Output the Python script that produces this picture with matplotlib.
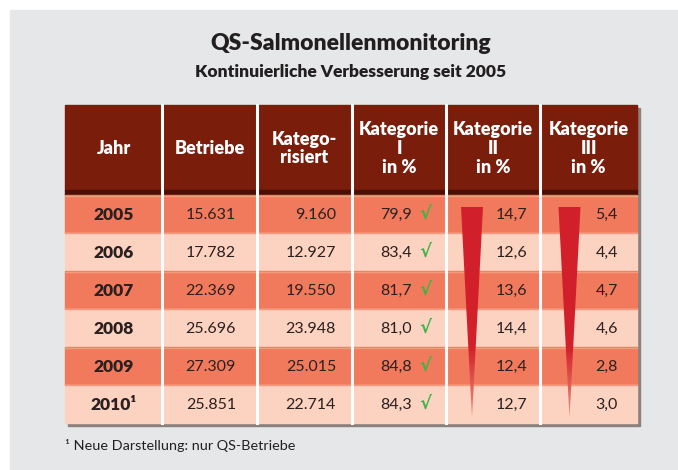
import matplotlib
matplotlib.use('Agg')
import matplotlib.pyplot as plt
import numpy as np
from matplotlib.patches import Rectangle, Polygon
from matplotlib.colors import LinearSegmentedColormap

plt.rcParams['font.family'] = ['Lato', 'DejaVu Sans']

# table data
years = ['2005', '2006', '2007', '2008', '2009', '2010¹']
betriebe = ['15.631', '17.782', '22.369', '25.696', '27.309', '25.851']
kategorisiert = ['9.160', '12.927', '19.550', '23.948', '25.015', '22.714']
kat1 = ['79,9', '83,4', '81,7', '81,0', '84,8', '84,3']
kat2 = ['14,7', '12,6', '13,6', '14,4', '12,4', '12,7']
kat3 = ['5,4', '4,4', '4,7', '4,6', '2,8', '3,0']
headers = ['Jahr', 'Betriebe', 'Katego-\nrisiert',
           'Kategorie\nI\nin %', 'Kategorie\nII\nin %', 'Kategorie\nIII\nin %']

# layout in pixel units
col_edges = [65, 162, 257, 352, 446, 540, 637]
head_top, head_bot = 105, 190
row_top, row_h = 195, 38

header_color = '#7a1d0a'
dark_row = '#f27a5c'
light_row = '#fcd3c1'
text_color = '#2b2020'

fig = plt.figure(figsize=(6.78, 4.70), dpi=100)
ax = fig.add_axes([0, 0, 1, 1])
ax.set_xlim(0, 678)
ax.set_ylim(470, 0)
ax.axis('off')

# gray panel
ax.add_patch(Rectangle((10, 10), 680, 470, color='#e6e7e8', zorder=0))

n_rows = len(years)
table_bot = row_top + n_rows * row_h

# shadow
ax.add_patch(Rectangle((col_edges[0] + 3, head_top + 3), col_edges[-1] - col_edges[0],
                       table_bot - head_top, color='#8c807c', zorder=1))

# header
ax.add_patch(Rectangle((col_edges[0], head_top), col_edges[-1] - col_edges[0],
                       head_bot - head_top, color=header_color, zorder=2))
ax.add_patch(Rectangle((col_edges[0], head_bot), col_edges[-1] - col_edges[0],
                       row_top - head_bot, color='#4a0f05', zorder=2))
for i, h in enumerate(headers):
    cx = (col_edges[i] + col_edges[i + 1]) / 2
    ax.text(cx, (head_top + head_bot) / 2 + 1, h, color='white', fontsize=13,
            fontweight='heavy', ha='center', va='center', linespacing=1.12, zorder=5)

# rows
for r in range(n_rows):
    y0 = row_top + r * row_h
    ax.add_patch(Rectangle((col_edges[0], y0), col_edges[-1] - col_edges[0], row_h,
                           color=dark_row if r % 2 == 0 else light_row, zorder=2))
    if r % 2 == 0:
        ax.plot([col_edges[0], col_edges[-1]], [y0 + 0.5, y0 + 0.5], color='#f59a80', lw=1, zorder=3)
        ax.plot([col_edges[0], col_edges[-1]], [y0 + row_h - 0.5, y0 + row_h - 0.5],
                color='#f59a80', lw=1, zorder=3)
    yc = y0 + row_h / 2 + 1
    ax.text((col_edges[0] + col_edges[1]) / 2, yc, years[r], fontsize=12.5, fontweight='heavy',
            color=text_color, ha='center', va='center', zorder=5)
    ax.text(236, yc, betriebe[r], fontsize=11.5, color=text_color, ha='right', va='center', zorder=5)
    ax.text(336, yc, kategorisiert[r], fontsize=11.5, color=text_color, ha='right', va='center', zorder=5)
    ax.text(412, yc, kat1[r], fontsize=11.5, color=text_color, ha='right', va='center', zorder=5)
    ax.text(425, yc - 1, '√', fontsize=13, fontweight='bold', color='#3cb44a',
            ha='center', va='center', zorder=5, family=['DejaVu Sans'])
    ax.text(527, yc, kat2[r], fontsize=11.5, color=text_color, ha='right', va='center', zorder=5)
    ax.text(618, yc, kat3[r], fontsize=11.5, color=text_color, ha='right', va='center', zorder=5)

# white column separators
for x in col_edges[1:-1]:
    ax.plot([x, x], [head_top, table_bot], color='white', lw=2.2, zorder=4)

# red decreasing wedges in Kategorie II and III, fading out at the tip
wedge_cmap = LinearSegmentedColormap.from_list('wedge', ['#d2202b', '#d2202b', '#d2202b', '#f0907a'])
grad = np.linspace(0, 1, 200).reshape(-1, 1)
for i in (4, 5):
    cx = (col_edges[i] + col_edges[i + 1]) / 2 - 21 + (2 if i == 5 else 0)
    top, bot = row_top + 12, table_bot - 5
    poly = Polygon([(cx - 11, top), (cx + 11, top), (cx, bot)], closed=True,
                   facecolor='none', edgecolor='none', zorder=4)
    ax.add_patch(poly)
    im = ax.imshow(grad, cmap=wedge_cmap, extent=(cx - 12, cx + 12, bot, top),
                   aspect='auto', zorder=4, interpolation='bilinear')
    im.set_clip_path(poly)

ax.set_xlim(0, 678)
ax.set_ylim(470, 0)

# titles
ax.text(351, 43, 'QS-Salmonellenmonitoring', fontsize=16.5, fontweight='heavy',
        color='#231f20', ha='center', va='center')
ax.text(351, 72, 'Kontinuierliche Verbesserung seit 2005', fontsize=12.5, fontweight='heavy',
        color='#231f20', ha='center', va='center')

# footnote
ax.text(65, 446, '¹ Neue Darstellung: nur QS-Betriebe', fontsize=10.4, color='#231f20',
        ha='left', va='center')

fig.savefig('out.png', dpi=100)
